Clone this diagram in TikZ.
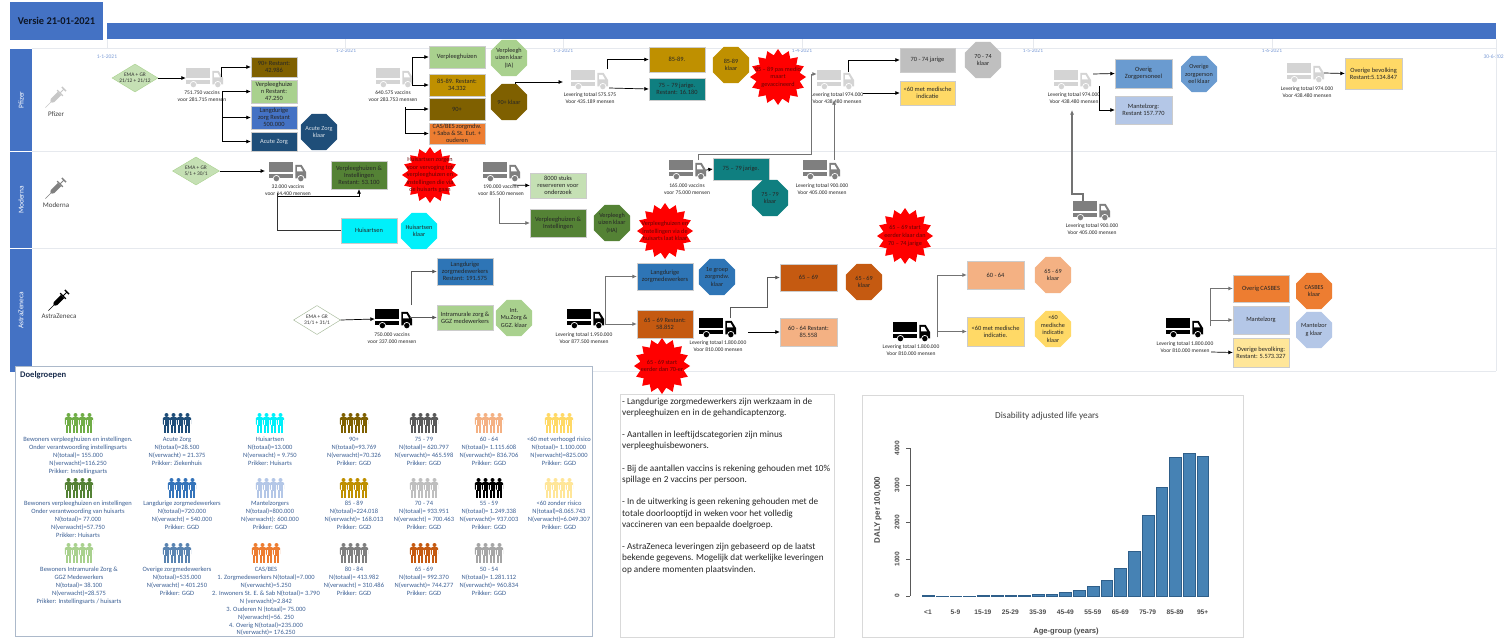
\documentclass[tikz,border=0pt]{standalone}
\usepackage{fontspec}
\setmainfont{Carlito}
\newfontfamily\chartfont{Liberation Sans}
\usetikzlibrary{arrows.meta,shapes.geometric}
\definecolor{hdr}{HTML}{4472C4}
\definecolor{lgreen}{HTML}{A9D18E}
\definecolor{pgreen}{HTML}{C5E0B4}
\definecolor{dgreen}{HTML}{548235}
\definecolor{mgreen}{HTML}{70AD47}
\definecolor{brown}{HTML}{7F6000}
\definecolor{gold}{HTML}{BF9000}
\definecolor{navy}{HTML}{1F4E79}
\definecolor{mblue}{HTML}{2E75B6}
\definecolor{sblue}{HTML}{6A9BD0}
\definecolor{pblue}{HTML}{B4C7E7}
\definecolor{orange}{HTML}{ED7D31}
\definecolor{rust}{HTML}{C55A11}
\definecolor{peach}{HTML}{F4B183}
\definecolor{yell}{HTML}{FFD966}
\definecolor{lyell}{HTML}{FFE699}
\definecolor{teal2}{HTML}{0F7F80}
\definecolor{cyan2}{HTML}{00F0FA}
\definecolor{lgray}{HTML}{BFBFBF}
\definecolor{tgl}{HTML}{D4D4D4}
\definecolor{tgm}{HTML}{7F7F7F}
\definecolor{grptxt}{HTML}{3B5F94}
\definecolor{rule}{HTML}{E6E9EE}
\definecolor{darkred}{HTML}{650505}
\definecolor{panelc}{HTML}{ACB9CA}
\definecolor{barfill}{HTML}{4682B4}
\definecolor{baredge}{HTML}{2F5F8A}
\tikzset{
  conn/.style={draw=black,line width=.7pt,-{Latex[length=4.5pt,width=4pt]}},
  connplain/.style={draw=black!80,line width=.7pt},
  connthick/.style={draw=black!55,line width=1pt,-{Latex[length=4.5pt,width=4pt]}},
  boxn/.style={draw=white!80!black,line width=.3pt,inner sep=0pt,align=center,font=\fontsize{6.4}{7}\selectfont,text=black!85},
  octan/.style={regular polygon,regular polygon sides=8,minimum size=39pt,inner sep=0pt},
  otext/.style={inner sep=0pt,align=center,font=\fontsize{6.2}{7.4}\selectfont,text=black!85},
  burstn/.style={star,star points=16,star point ratio=1.27,minimum size=56pt,inner sep=0pt,fill=red},
  btext/.style={inner sep=0pt,align=center,font=\fontsize{6.2}{7.6}\selectfont,text=darkred},
  diam/.style={diamond,inner sep=0pt,line width=.4pt,aspect=1.65},
  dtext/.style={inner sep=0pt,align=center,font=\fontsize{5.4}{6.4}\selectfont,text=black!80},
  tlabel/.style={inner sep=0pt,align=center,font=\fontsize{5.5}{7}\selectfont,text=black!85},
  tline/.style={inner sep=0pt,font=\fontsize{5.5}{6}\selectfont,text=hdr!70},
  lane/.style={fill=hdr,inner sep=0pt,minimum width=22pt,text=white!90!hdr},
  lanet/.style={inner sep=0pt,rotate=90,text=white,font=\fontsize{7.4}{8}\selectfont},
  grp/.style={anchor=north,inner sep=0pt,align=center,font=\fontsize{6.5}{7.9}\selectfont,text=grptxt},
  vac/.style={inner sep=0pt,font=\fontsize{7}{8}\selectfont,text=black!75},
  chlab/.style={inner sep=0pt,font=\chartfont\fontsize{6.6}{7}\selectfont\bfseries,text=black!70},
}
% box: name x1 y1 x2 y2 colour text
\newcommand{\mybox}[7]{%
  \pgfmathsetmacro{\bw}{#4-#2}\pgfmathsetmacro{\bh}{#5-#3}%
  \pgfmathsetmacro{\bx}{(#2+#4)/2}\pgfmathsetmacro{\by}{(#3+#5)/2}%
  \node[boxn,fill=#6,minimum width=\bw pt,minimum height=\bh pt] (#1) at (\bx,\by) {#7};}
% octagon: name x y colour text
\newcommand{\myocta}[5]{%
  \node[octan,fill=#4] (#1) at (#2,#3) {};
  \node[otext] (#1-t) at (#1) {#5};}
\newcommand{\myburst}[4]{%
  \node[burstn] (#1) at (#2,#3) {};
  \node[btext] (#1-t) at (#1) {#4};}
% truck: name left top colour
\newcommand{\mytruck}[4]{%
  \begin{scope}[shift={(#2,#3)},x=37pt,y=-20pt]
    \fill[#4] (0,0) rectangle (.66,.5);
    \fill[#4] (0,.58) rectangle (.66,.8);
    \fill[#4] (.71,.14) -- (.88,.14) -- (1,.5) -- (1,.82) -- (.71,.82) -- cycle;
    \fill[white] (.76,.24) -- (.85,.24) -- (.92,.47) -- (.76,.47) -- cycle;
    \foreach \wx in {.2,.86}{
      \fill[white] (\wx,.83) circle[radius=3.6pt];
      \fill[#4] (\wx,.83) circle[radius=2.7pt];}
  \end{scope}
  \node[inner sep=0pt,minimum width=37pt,minimum height=20pt] (#1) at (#2+18.5,#3+10) {};}
% people icon: x y colour
\newcommand{\mypeople}[3]{%
  \foreach \pp in {-10.5,-3.5,3.5,10.5}{
    \begin{scope}[shift={(#1+\pp,#2)}]
      \fill[#3] (0,-8) circle[radius=2pt];
      \fill[#3,rounded corners=1pt] (-3.6,-5.8) rectangle (3.6,2);
      \fill[#3] (-2.3,0) rectangle (2.3,10);
      \draw[white,line width=.25pt] (0,3) -- (0,10) (-2.3,-3) -- (-2.3,2) (2.3,-3) -- (2.3,2);
    \end{scope}}}
% syringe: x y colour
\newcommand{\mysyringe}[3]{%
  \begin{scope}[shift={(#1,#2)},rotate=45]
    \draw[#3,line width=.5pt] (-15,0) -- (-6,0);
    \fill[#3] (-7,-1) -- (-5,-2.3) -- (5,-2.3) -- (5,2.3) -- (-5,2.3) -- (-7,1) -- cycle;
    \fill[#3] (5,-4) rectangle (6.3,4);
    \draw[#3,line width=1pt] (6,0) -- (11,0);
    \fill[#3] (10.5,-3) rectangle (12,3);
  \end{scope}}
\newcommand{\mygrp}[4]{\node[grp] (#1) at (#2,#3) {#4};}
\begin{document}
\begin{tikzpicture}[x=1pt,y=-1pt]
\useasboundingbox (0,0) rectangle (1504,637);
\fill[white] (0,0) rectangle (1504,637);

% header
\node[fill=hdr,inner sep=0pt,minimum width=93pt,minimum height=38pt,text=black!80!hdr,font=\fontsize{10.4}{12}\selectfont\bfseries] (ver) at (56.5,21) {Versie 21-01-2021};
\node[fill=hdr,inner sep=0pt,minimum width=1389pt,minimum height=16pt] (bar) at (801.5,31) {};

% timeline
\foreach \tx in {107,345,563,802,1033,1272,1496}{\draw[rule,line width=.5pt] (\tx,39) -- (\tx,48);}
\node[tline] (d1) at (107,57) {1-1-2021};
\node[tline] (d2) at (346,51) {1-2-2021};
\node[tline] (d3) at (563,51) {1-3-2021};
\node[tline] (d4) at (802,51) {1-4-2021};
\node[tline] (d5) at (1033,51) {1-5-2021};
\node[tline] (d6) at (1272,51) {1-6-2021};
\node[tline] (d7) at (1495,57) {30-6-2021};

% lanes
\foreach \ly in {48,151,248,371}{\draw[rule,line width=.6pt] (32,\ly) -- (1496,\ly);}
\draw[rule,line width=.6pt] (1496,39) -- (1496,371);
\node[lane,minimum height=102pt] (l1) at (21,100) {};
\node[lane,minimum height=96pt] (l2) at (21,200) {};
\node[lane,minimum height=123pt] (l3) at (21,310.5) {};
\node[lanet] (l1t) at (l1) {Pfizer};
\node[lanet] (l2t) at (l2) {Moderna};
\node[lanet] (l3t) at (l3) {AstraZeneca};

\mysyringe{56}{97}{black!22}
\mysyringe{56}{188}{black!50}
\mysyringe{59}{300}{black}
\node[vac] (v1) at (56,114) {Pfizer};
\node[vac] (v2) at (56,205.5) {Moderna};
\node[vac] (v3) at (59,316.5) {AstraZeneca};

% === Pfizer ===
\node[diam,fill=pgreen,draw=lgreen,minimum width=46pt,minimum height=28pt] (a1) at (135,78) {};
\node[dtext] (a1t) at (a1) {EMA + GR\\21/12 + 21/12};
\mytruck{t1}{186}{68}{tgl}
\node[tlabel] (t1l) at (202,96.5) {751.750 vaccins\\voor 281.715 mensen};
\mybox{b11}{251}{57}{297}{77}{brown}{90+ Restant:\\42.986}
\mybox{b12}{251}{80}{297}{103}{lgreen}{Verpleeghuize\\n Restant:\\47.250}
\mybox{b13}{251}{106}{297}{129}{hdr}{Langdurige\\zorg Restant\\500.000}
\mybox{b14}{251}{132}{297}{151}{navy}{\textcolor{white!85!navy}{Acute Zorg}}
\myocta{o11}{319}{132}{navy}{\textcolor{white!85!navy}{Acute Zorg}\\\textcolor{white!85!navy}{klaar}}
\draw[conn] (a1.east) -- (t1.west);
\coordinate (j1a) at (221,77);
\coordinate (j1) at (222,91);
\draw[conn] (j1a) |- (b11.west);
\draw[conn] (j1) |- (b12.west);
\draw[conn] (j1) |- (b13.west);
\draw[conn] (j1) |- (b14.west);

\mytruck{t2}{376}{68}{tgl}
\node[tlabel] (t2l) at (393,96.5) {640.575 vaccins\\voor 283.753 mensen};
\mybox{b21}{429}{46}{485}{68}{lgreen}{Verpleeghuizen}
\mybox{b22}{429}{74}{485}{96}{gold}{85-89. Restant:\\34.332}
\mybox{b23}{429}{98}{485}{120}{brown}{90+}
\mybox{b24}{429}{123}{485}{144}{orange}{CAS/BES zorgmdw.\\+ Saba \& St. Eut. +\\ouderen}
\coordinate (j2a) at (412,84);
\coordinate (j2b) at (405,107);
\draw[conn] (j2a) |- (b21.west);
\draw[conn] (j2a) |- (b22.west);
\draw[conn] (j2b) |- (b23.west);
\draw[conn] (j2b) |- (b24.west);
\myocta{o21}{509}{58}{lgreen}{Verpleegh\\uizen klaar\\(IA)}
\myocta{o22}{509}{102}{brown}{90+ klaar}

\mytruck{t3}{571}{70}{tgl}
\node[tlabel] (t3l) at (590,98) {Levering totaal 575.575\\Voor 435.189 mensen};
\coordinate (e3) at (563,82);
\draw[conn,line width=.6pt] ([shift={(6,0)}]o22.north) |- (e3);
\mybox{b31}{649}{47}{705}{72}{gold}{85-89.}
\mybox{b32}{649}{78}{705}{100}{teal2}{75 – 79 jarige.\\Restant: 16.180}
\coordinate (j3a) at (607,69);
\coordinate (j3b) at (609,88);
\draw[conn] (j3a) |- (b31.west);
\draw[conn] (j3b) -- (b32.west);
\myocta{o31}{731}{65}{gold}{85-89\\klaar}
\myburst{s31}{778}{77}{85 – 89 pas medio\\maart\\gevaccineerd}

\mytruck{t4}{817}{70}{tgl}
\node[tlabel] (t4l) at (837,98) {Levering totaal 974.000\\Voor 438.480 mensen};
\mybox{b41}{900}{48}{955}{72}{lgray}{70 - 74 jarige}
\mybox{b42}{900}{81}{955}{105}{yell}{<60 met medische\\indicatie}
\myocta{o41}{983}{60}{lgray}{70 - 74\\klaar}
\coordinate (j4a) at (848,72);
\coordinate (j4b) at (863,93);
\draw[conn] (j4a) |- (b41.west);
\draw[conn] (j4b) -- (b42.west);

\mytruck{t10}{1054}{70}{tgl}
\node[tlabel] (t10l) at (1074,98) {Levering totaal 974.000\\Voor 438.480 mensen};
\mybox{b101}{1115}{59}{1172}{88}{sblue}{Overig\\Zorgpersoneel}
\mybox{b102}{1115}{96}{1172}{124}{pblue}{Mantelzorg:\\Restant 157.770}
\myocta{o101}{1199}{74}{sblue}{Overige\\zorgperson\\eel klaar}
\coordinate (j10a) at (1093,74);
\coordinate (j10b) at (1099,86);
\draw[conn] (j10a) -- (b101.west);
\draw[conn] (j10b) |- (b102.west);

\mytruck{t11}{1287}{63}{tgl}
\node[tlabel] (t11l) at (1307,92) {Levering totaal 974.000\\Voor 438.480 mensen};
\mybox{b111}{1345}{58}{1402}{89}{yell}{Overige bevolking\\Restant:5.134.847}
\draw[conn] (t11.east) -- (b111.west);

% === Moderna ===
\node[diam,fill=pgreen,draw=lgreen,minimum width=47pt,minimum height=28pt] (a2) at (196,171) {};
\node[dtext] (a2t) at (a2) {EMA + GR\\5/1 + 30/1};
\mytruck{t8}{269}{162}{tgm}
\node[tlabel] (t8l) at (288,190) {32.000 vaccins\\voor 14.400 mensen};
\coordinate (e8) at (265,171);
\draw[conn] (a2.east) -- (e8);
\mybox{b81}{331}{161}{387}{189}{dgreen}{Verpleeghuizen \&\\Instellingen\\Restant: 53.100}
\myburst{s81}{430}{175}{Huisartsen zorgen\\voor vervoging tot\\verpleeghuizen en\\instellingen die via\\de huisarts gaan}
\mybox{b82}{341}{218}{397}{243}{cyan2}{Huisartsen}
\myocta{o82}{419}{231}{cyan2}{Huisartsen\\klaar}
\coordinate (j8a) at (277.5,193);
\coordinate (j8b) at (277.5,196);
\draw[connplain] (j8a) |- (b82.west);
\draw[conn] (j8b) -| (b81.south);

\mytruck{t7}{483}{162}{tgm}
\node[tlabel] (t7l) at (501,190.5) {190.000 vaccins\\voor 85.500 mensen};
\mybox{b71}{530}{173}{586}{198}{pgreen}{8000 stuks\\reserveren voor\\onderzoek}
\mybox{b72}{530}{209}{586}{237}{dgreen}{Verpleeghuizen \&\\Instellingen}
\myocta{o72}{612}{223}{dgreen}{Verpleegh\\uizen klaar\\(HA)}
\myburst{s72}{665}{231}{Verpleeghuizen en\\instellingen via de\\huisarts laat klaar}
\coordinate (j7a) at (513,185);
\coordinate (j7b) at (499,198);
\draw[conn] (j7a) -- (b71.west);
\draw[conn,draw=black!55] (j7b) |- (b72.west);

\mytruck{t5}{669}{160}{tgm}
\node[tlabel] (t5l) at (687,189.5) {165.000 vaccins\\voor 75.000 mensen};
\mybox{b51}{713}{158}{769}{180}{teal2}{75 – 79 jarige.}
\myocta{o51}{770}{198}{teal2}{75 - 79\\klaar}
\coordinate (j5a) at (698,160);
\coordinate (c5) at (811,154);
\draw[conn] (t5.east) -- (b51.west);
\draw[connthick] (j5a) |- (c5) |- ([shift={(0,-6)}]t4.west);

\mytruck{t6}{803}{160}{tgm}
\node[tlabel] (t6l) at (822,189.5) {Levering totaal 900.000\\Voor 405.000 mensen};
\coordinate (e6) at (834,100);
\draw[connthick] (e6 |- t6.north) -- (e6);

\mytruck{t9}{1073}{201}{tgm}
\node[tlabel] (t9l) at (1092,229.5) {Levering totaal 900.000\\Voor 405.000 mensen};
\coordinate (c9) at (1072,194);
\coordinate (e9) at (1072,110);
\draw[connthick,line width=1.1pt] ([shift={(-8.5,0)}]t9.north) |- (c9) -- (e9);

% === AstraZeneca ===
\node[diam,fill=white,draw=pgreen!80!black,minimum width=47pt,minimum height=29pt] (a3) at (317,320) {};
\node[dtext] (a3t) at (a3) {EMA + GR\\31/1 + 31/1};
\mytruck{t12}{375}{309}{black}
\node[tlabel] (t12l) at (392,338) {750.000 vaccins\\voor 337.000 mensen};
\draw[conn] (a3.east) -- (t12.west);
\mybox{b121}{437}{258}{493}{285}{mblue}{Langdurige\\zorgmedewerkers\\Restant: 191.575}
\mybox{b122}{437}{305}{493}{330}{lgreen}{Intramurale zorg \&\\GGZ medewerkers}
\myocta{o122}{514}{318}{lgreen}{Int.\\Mu.Zorg \&\\GGZ. klaar}
\coordinate (j12a) at (411,305);
\coordinate (j12b) at (410,317.5);
\draw[conn,draw=black!65] (j12a) |- (b121.west);
\draw[conn,draw=black!65] (j12b) -- (b122.west);

\mytruck{t13}{567}{309}{black}
\node[tlabel] (t13l) at (584,338.5) {Levering totaal 1.950.000\\Voor 877.500 mensen};
\mybox{b131}{637}{263}{693}{290}{mblue}{Langdurige\\zorgmedewerkers}
\mybox{b132}{637}{310}{693}{338}{rust}{65 – 69 Restant:\\58.852}
\myocta{o131}{717}{277}{mblue}{1e groep\\zorgmdw.\\klaar}
\coordinate (j13) at (605,324);
\draw[connthick] (j13) |- (b131.west);
\draw[connthick] (j13) -- (b132.west);

\mytruck{t14}{699}{318}{black}
\node[tlabel] (t14l) at (718,346.5) {Levering totaal 1.800.000\\Voor 810.000 mensen};
\mybox{b141}{780}{264}{837}{291}{rust}{65 – 69}
\mybox{b142}{780}{318}{837}{346}{peach}{60 - 64 Restant:\\85.558}
\myocta{o141}{864}{282}{rust}{65 - 69\\klaar}
\coordinate (j14a) at (730,318);
\coordinate (c14) at (767,307);
\coordinate (j14b) at (748,332);
\draw[conn,draw=black!65] (j14a) |- (c14) |- (b141.west);
\draw[conn] (j14b) -- (b142.west);
\myburst{s141}{905}{236}{65 – 69 start\\eerder klaar dan\\70 – 74 jarige}

\mytruck{t15}{893}{322}{black}
\node[tlabel] (t15l) at (911,350) {Levering totaal 1.800.000\\Voor 810.000 mensen};
\mybox{b151}{967}{261}{1024}{289}{peach}{60 - 64}
\mybox{b152}{967}{317}{1024}{346}{yell}{<60 met medische\\indicatie.}
\myocta{o151}{1053}{275}{peach}{65 - 69\\klaar}
\myocta{o152}{1053}{329}{yell}{<60\\medische\\indicatie\\klaar}
\coordinate (j15) at (937,337);
\draw[connthick] (j15) |- (b151.west);
\draw[connthick] (j15) |- (b152.west);

\mytruck{t16}{1166}{318}{black}
\node[tlabel] (t16l) at (1185,347.5) {Levering totaal 1.800.000\\Voor 810.000 mensen};
\mybox{b161}{1233}{275}{1289}{302}{orange}{Overig CASBES}
\mybox{b162}{1233}{306}{1289}{334}{pblue}{Mantelzorg}
\mybox{b163}{1233}{338}{1289}{367}{lyell}{Overige bevolking:\\Restant: 5.573.327}
\myocta{o161}{1314}{291}{orange}{CASBES\\klaar}
\myocta{o162}{1314}{330}{pblue}{Mantelzor\\g klaar}
\coordinate (j16a) at (1210,326);
\coordinate (j16b) at (1211,352);
\draw[connthick] (j16a) |- (b161.west);
\draw[connthick] (j16a) |- (b162.west);
\draw[conn] (j16b) -- (b163.west);

% === Doelgroepen ===
\node[draw=panelc,line width=.8pt,inner sep=0pt,minimum width=577pt,minimum height=270pt,fill=white] (panel) at (303.5,501) {};
\node[inner sep=0pt,anchor=west,font=\fontsize{8.6}{9}\selectfont\bfseries,text=black!60!hdr] (ptitle) at (20,375) {Doelgroepen};

\mypeople{79}{423}{mgreen}
\mypeople{79}{488}{dgreen}
\mypeople{79}{553}{lgreen}
\mypeople{177}{423}{navy}
\mypeople{182}{488}{mblue!70!hdr}
\mypeople{177}{553}{sblue!85!black}
\mypeople{270}{423}{cyan2}
\mypeople{270}{488}{pblue}
\mypeople{266}{553}{orange}
\mypeople{354}{423}{brown}
\mypeople{354}{488}{gold}
\mypeople{354}{553}{tgm}
\mypeople{424}{423}{black!65}
\mypeople{424}{488}{lgray}
\mypeople{424}{553}{rust}
\mypeople{489}{423}{peach}
\mypeople{489}{488}{black}
\mypeople{489}{553}{black!35}
\mypeople{559}{423}{yell}
\mypeople{559}{488}{lyell}

\mygrp{g11}{78}{437}{Bewoners verpleeghuizen en instellingen.\\Onder verantwoording instellingsarts\\N(totaal)= 155.000\\N(verwacht)=116.250\\Prikker: Instellingsarts}
\mygrp{g12}{78}{501}{Bewoners verpleeghuizen en instellingen\\Onder verantwoording van huisarts\\N(totaal)= 77.000\\N(verwacht)=57.750\\Prikker: Huisarts}
\mygrp{g13}{79}{567}{Bewoners Intramurale Zorg \&\\GGZ Medewerkers\\N(totaal)= 38.100\\N(verwacht)=28.575\\Prikker: Instellingsarts / huisarts}
\mygrp{g21}{177}{437}{Acute Zorg\\N(totaal)=28.500\\N(verwacht) = 21.375\\Prikker: Ziekenhuis}
\mygrp{g22}{182}{501}{Langdurige zorgmedewerkers\\N(totaal)=720.000\\N(verwacht) = 540.000\\Prikker: GGD}
\mygrp{g23}{177}{567}{Overige zorgmedewerkers\\N(totaal)=535.000\\N(verwacht) = 401.250\\Prikker: GGD}
\mygrp{g31}{270}{437}{Huisartsen\\N(totaal)=13.000\\N(verwacht) = 9.750\\Prikker: Huisarts}
\mygrp{g32}{270}{501}{Mantelzorgers\\N(totaal)=800.000\\N(verwacht): 600.000\\Prikker: GGD}
\mygrp{g33}{266}{567}{CAS/BES\\1. Zorgmedewerkers N(totaal)=7.000\\N(verwacht)=5.250\\2. Inwoners St. E. \& Sab N(totaal)= 3.790\\N (verwacht)=2.842\\3. Ouderen N (totaal)= 75.000\\N(verwacht)=56. 250\\4. Overig N(totaal)=235.000\\N(verwacht)= 176.250}
\mygrp{g41}{354}{437}{90+\\N(totaal)=93.769\\N(verwacht)=70.326\\Prikker: GGD}
\mygrp{g42}{354}{501}{85 - 89\\N(totaal)=224.018\\N(verwacht)= 168.013\\Prikker: GGD}
\mygrp{g43}{354}{567}{80 - 84\\N(totaal)= 413.982\\N(verwacht) = 310.486\\Prikker: GGD}
\mygrp{g51}{424}{437}{75 - 79\\N(totaal)= 620.797\\N(verwacht)= 465.598\\Prikker: GGD}
\mygrp{g52}{424}{501}{70 - 74\\N(totaal)= 933.951\\N(verwacht) = 700.463\\Prikker: GGD}
\mygrp{g53}{424}{567}{65 - 69\\N(totaal)= 992.370\\N(verwacht)= 744.277\\Prikker: GGD}
\mygrp{g61}{489}{437}{60 - 64\\N(totaal)= 1.115.608\\N(verwacht)= 836.706\\Prikker: GGD}
\mygrp{g62}{489}{501}{55 - 59\\N(totaal)= 1.249.338\\N(verwacht)= 937.003\\Prikker: GGD}
\mygrp{g63}{489}{567}{50 - 54\\N(totaal)= 1.281.112\\N(verwacht)= 960.834\\Prikker: GGD}
\mygrp{g71}{559}{437}{<60 met verhoogd risico\\N(totaal)= 1.100.000\\N(verwacht)=825.000\\Prikker: GGD}
\mygrp{g72}{559}{501}{<60 zonder risico\\N(totaal)=8.065.743\\N(verwacht)=6.049.307\\Prikker: GGD}

% === notes ===
\node[draw=black!15,line width=.6pt,fill=white,inner sep=0pt,minimum width=214pt,minimum height=243pt] (notes) at (727,516) {};
\node[anchor=north west,inner sep=0pt,align=left,font=\fontsize{9.2}{11.2}\selectfont,text=black!85] (notest) at (622,397.5) {%
- Langdurige zorgmedewerkers zijn werkzaam in de\\verpleeghuizen en in de gehandicaptenzorg.\\[11.2pt]
- Aantallen in leeftijdscategorien zijn minus\\verpleeghuisbewoners.\\[11.2pt]
- Bij de aantallen vaccins is rekening gehouden met 10\%\\spillage en 2 vaccins per persoon.\\[11.2pt]
- In de uitwerking is geen rekening gehouden met de\\totale doorlooptijd in weken voor het volledig\\vaccineren van een bepaalde doelgroep.\\[11.2pt]
- AstraZeneca leveringen zijn gebaseerd op de laatst\\bekende gegevens. Mogelijk dat werkelijke leveringen\\op andere momenten plaatsvinden.};
\myburst{s131}{662}{366}{65 - 69 start\\eerder dan 70-er}

% === chart ===
\node[draw=black!15,line width=.6pt,fill=white,inner sep=0pt,minimum width=381pt,minimum height=242pt] (chart) at (1052.5,516) {};
\node[inner sep=0pt,font=\fontsize{9.2}{10}\selectfont,text=black!75] (ctitle) at (1047,416) {Disability adjusted life years};
\foreach \v [count=\i from 0] in {10,8,6,8,15,20,25,28,50,45,100,150,270,430,740,1200,2180,2950,3750,3850,3770}{
  \pgfmathsetmacro{\xa}{922.3+\i*13.73}
  \pgfmathsetmacro{\hh}{\v*0.037}
  \fill[fill=barfill,draw=baredge,line width=.3pt] (\xa,596) rectangle ({\xa+11.7},{596-\hh});
}
\draw[black!65,line width=.5pt] (906,448) -- (910,448) (906,485) -- (910,485) (906,522) -- (910,522) (906,559) -- (910,559) (906,596) -- (910,596) (910,448) -- (910,596);
\foreach \tv/\ty in {0/596,1000/559,2000/522,3000/485,4000/448}{
  \node[chlab,rotate=90] (yt\tv) at (897,\ty) {\tv};}
\node[chlab,rotate=90,font=\chartfont\fontsize{8}{9}\selectfont\bfseries] (ylab) at (878,510) {DALY per 100,000};
\foreach \lab [count=\i from 0] in {<1,5-9,15-19,25-29,35-39,45-49,55-59,65-69,75-79,85-89,95+}{
  \pgfmathsetmacro{\xl}{928+\i*27.46}
  \node[chlab] (xt\i) at (\xl,612) {\lab};}
\node[chlab,font=\chartfont\fontsize{7.6}{8}\selectfont\bfseries] (xlab) at (1066,632) {Age-group (years)};
\end{tikzpicture}
\end{document}
